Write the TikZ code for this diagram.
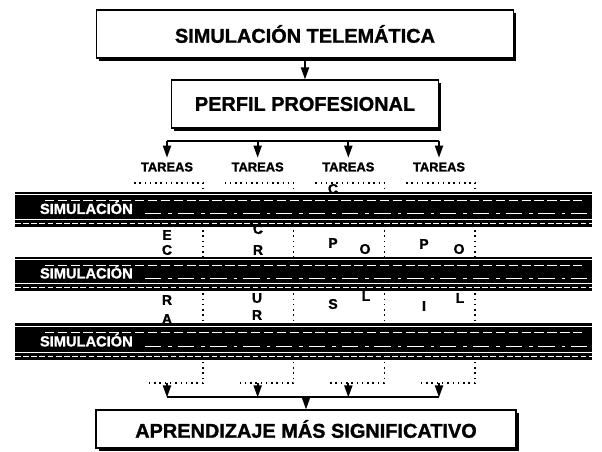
\documentclass[tikz,border=0pt]{standalone}
\usepackage{fontspec}
\setmainfont{Liberation Sans}[BoldFeatures={FakeBold=1.3}]
\usetikzlibrary{shapes, arrows.meta, calc, shadows}
\tikzstyle{headbox} = [rectangle, draw=black, line width=1pt, fill=white, text centered, font=\fontsize{17}{20}\selectfont\bfseries, general shadow={fill=black, shadow xshift=0.08cm, shadow yshift=-0.08cm}]
\tikzstyle{tarea} = [inner sep=1pt, font=\fontsize{11}{13}\selectfont\bfseries]
\tikzstyle{band} = [rectangle, fill=black, minimum width=17.31cm, inner sep=0pt]
\tikzstyle{bandlabel} = [anchor=west, text=white, inner sep=0pt, font=\fontsize{12.5}{14}\selectfont\bfseries]
\tikzstyle{letter} = [inner sep=0pt, font=\fontsize{12}{14}\selectfont\bfseries]
\tikzstyle{arrow} = [line width=1.6pt, -{Triangle[length=3.6mm, width=2.4mm]}]
\tikzstyle{bar} = [line width=1.8pt]
\tikzstyle{dotline} = [line width=1.3pt, dash pattern=on 1.3pt off 3.2pt]
\begin{document}
\begin{tikzpicture}[x=0.03cm, y=-0.03cm]
\useasboundingbox (0,0) rectangle (602,452);

% Top
\node (title) [headbox, minimum width=12.51cm, minimum height=1.44cm] at (305,34) {SIMULACIÓN TELEMÁTICA};
\node (perfil) [headbox, below of=title, yshift=-1.1cm, minimum width=8.01cm, minimum height=1.44cm] {PERFIL PROFESIONAL};
\node (tareas1) [tarea, below of=perfil, xshift=-4.14cm, yshift=-0.89cm] {TAREAS};
\node (tareas2) [tarea, right of=tareas1, xshift=1.72cm] {TAREAS};
\node (tareas3) [tarea, right of=tareas2, xshift=1.72cm] {TAREAS};
\node (tareas4) [tarea, right of=tareas3, xshift=1.72cm] {TAREAS};
\coordinate (fork) at ($(perfil.south)+(0,12)$);

\draw [arrow] (title) -- (perfil);
\draw [bar] (tareas1 |- fork) -- (tareas4 |- fork);
\foreach \t in {1,...,4}
  \draw [arrow, shorten >=0.1cm] (tareas\t |- fork) -- (tareas\t.north);

% dotted frames of the tasks
\foreach \t in {1,...,4}
  \draw [dotline] ($(tareas\t)+(-33,16)$) -- ($(tareas\t)+(36,16)$) -- ($(tareas\t)+(36,216)$) -- ($(tareas\t)+(-20,216)$);

% letters between the bands
\foreach \ch/\x/\y [count=\i] in {C/333/189, E/167/235, C/167/250, C/258/229, R/258/250, P/333/243, O/365/249, P/424/244, O/459/249,
  R/167/300, A/167/319, U/257/298, R/257/315, S/333/304, L/366/296, I/424/306, L/460/298}
  \node (letra\i) [letter] at (\x,\y) {\ch};

% Bands
\node (band1) [band, minimum height=1.05cm] at (303.5,209.5) {};
\node (band2) [band, minimum height=1.02cm] at (303.5,274) {};
\node (band3) [band, minimum height=1.11cm] at (303.5,342) {};
\foreach \b in {1,2,3} {
  \draw [white, line width=0.7pt] ($(band\b.north west)+(0,3)$) -- ($(band\b.north east)+(0,3)$);
  \draw [white, line width=0.5pt, dash pattern=on 8pt off 3pt] ($(band\b.north west)+(30,9)$) -- ($(band\b.north east)+(-10,9)$);
  \draw [white, line width=0.4pt, dash pattern=on 14pt off 6pt on 3pt off 5pt] ($(band\b.west)+(130,4)$) -- ($(band\b.east)+(-5,4)$);
  \draw [white, line width=0.8pt] ($(band\b.south west)+(0,-8)$) -- ($(band\b.south east)+(0,-8)$);
  \draw [white, line width=0.5pt, dash pattern=on 5pt off 2pt] ($(band\b.south west)+(0,-4)$) -- ($(band\b.south east)+(0,-4)$);
  \node (lab\b) [bandlabel] at ($(band\b.west)+(25,-2)$) {SIMULACIÓN};
}

% Bottom
\node (apr) [headbox, minimum width=12.6cm, minimum height=1.14cm] at (306,429) {APRENDIZAJE MÁS SIGNIFICATIVO};
\coordinate (join) at ($(apr.north)+(0,-12)$);

\foreach \t in {1,...,4}
  \draw [arrow] ($(tareas\t)+(0,216)$) -- (tareas\t |- join);
\draw [bar] (tareas1 |- join) -- (tareas4 |- join);
\draw [arrow] (join) -- (apr);

\end{tikzpicture}
\end{document}
